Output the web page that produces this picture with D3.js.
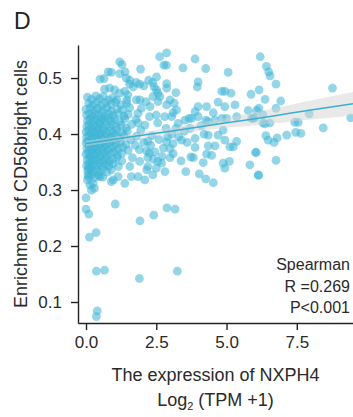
<!DOCTYPE html>
<html>
<head>
<meta charset="utf-8">
<script src="https://cdn.jsdelivr.net/npm/d3@7"></script>
<style>
    html, body { margin: 0; padding: 0; background: #fff; }
    svg { display: block; font-family: "Liberation Sans", Arial, Helvetica, sans-serif; }
</style>
</head>
<body>
<div id="chart"></div>
<script>
// [log2(TPM+1), enrichment]
const coreSamples = [
    [0.05,0.466],[0.2,0.462],[0.35,0.468],[0.48,0.463],[0.62,0.467],[0.8,0.461],[0.95,0.465],
    [0.1,0.455],[0.25,0.452],[0.4,0.457],[0.55,0.451],[0.7,0.456],[0.88,0.453],[1.05,0.457],[1.25,0.452],[1.45,0.455],
    [0.0,0.444],[0.15,0.447],[0.3,0.442],[0.42,0.446],[0.6,0.443],[0.75,0.447],[0.9,0.441],[1.1,0.445],[1.3,0.443],[1.55,0.447],
    [0.02,0.434],[0.12,0.437],[0.22,0.432],[0.33,0.436],[0.45,0.433],[0.58,0.437],[0.68,0.431],[0.82,0.436],[0.97,0.433],[1.15,0.437],[1.35,0.432],[1.5,0.435],
    [0.05,0.424],[0.15,0.427],[0.26,0.423],[0.36,0.426],[0.47,0.421],[0.56,0.427],[0.66,0.424],[0.78,0.428],[0.9,0.423],[1.02,0.426],[1.2,0.422],[1.38,0.427],[1.78,0.426],
    [0.03,0.414],[0.1,0.417],[0.19,0.412],[0.29,0.416],[0.39,0.413],[0.5,0.418],[0.6,0.412],[0.71,0.416],[0.83,0.413],[0.94,0.417],[1.08,0.412],[1.25,0.416],[1.42,0.411],[1.62,0.417],[2.1,0.416],
    [0.0,0.404],[0.08,0.407],[0.17,0.402],[0.26,0.406],[0.35,0.403],[0.44,0.408],[0.53,0.402],[0.63,0.406],[0.73,0.401],[0.84,0.405],[0.96,0.402],[1.1,0.407],[1.28,0.401],[1.47,0.405],[1.95,0.407],
    [0.02,0.394],[0.1,0.397],[0.2,0.392],[0.29,0.396],[0.38,0.393],[0.47,0.398],[0.57,0.392],[0.67,0.396],[0.78,0.391],[0.9,0.395],[1.03,0.398],[1.18,0.393],[1.36,0.397],[1.8,0.396],[2.35,0.397],
    [0.0,0.384],[0.07,0.387],[0.15,0.382],[0.24,0.386],[0.33,0.383],[0.42,0.388],[0.51,0.382],[0.61,0.386],[0.71,0.381],[0.82,0.385],[0.94,0.388],[1.07,0.383],[1.23,0.386],[1.42,0.381],[2.2,0.387],
    [0.03,0.374],[0.11,0.377],[0.2,0.372],[0.28,0.376],[0.37,0.373],[0.46,0.378],[0.56,0.372],[0.66,0.376],[0.77,0.371],[0.88,0.375],[1.0,0.378],[1.14,0.373],[1.3,0.376],[1.5,0.371],
    [0.0,0.364],[0.08,0.367],[0.16,0.362],[0.25,0.366],[0.34,0.363],[0.43,0.368],[0.53,0.362],[0.63,0.366],[0.74,0.361],[0.86,0.365],[0.99,0.368],[1.12,0.363],[1.28,0.366],[2.25,0.366],
    [0.04,0.354],[0.12,0.357],[0.21,0.352],[0.3,0.356],[0.4,0.353],[0.5,0.358],[0.6,0.352],[0.71,0.356],[0.83,0.351],[0.96,0.355],[1.1,0.358],[1.27,0.352],
    [0.02,0.344],[0.1,0.347],[0.19,0.342],[0.28,0.346],[0.38,0.343],[0.48,0.348],[0.59,0.342],[0.7,0.346],[0.82,0.343],[0.96,0.347],[1.15,0.342],
    [0.06,0.334],[0.15,0.337],[0.25,0.332],[0.36,0.336],[0.47,0.333],[0.6,0.337],[0.75,0.332],[0.9,0.336],
    [0.09,0.324],[0.2,0.327],[0.32,0.322],[0.45,0.326],[0.6,0.323]
];

const upperSamples = [
    [1.28,0.524],[1.2,0.529],[1.94,0.516],[2.62,0.538],[2.77,0.523],[0.9,0.51],[1.2,0.508],[1.43,0.5],
    [0.64,0.499],[2.23,0.496],[1.55,0.489],[1.79,0.492],[1.91,0.489],[2.42,0.484],[0.66,0.48],[0.84,0.482],
    [1.02,0.479],[1.2,0.473],[1.38,0.476],[1.49,0.47],[1.79,0.461],[2.14,0.458],[2.38,0.467],[2.56,0.473],
    [2.56,0.458],[0.5,0.498],[0.79,0.511],[1.39,0.511],[1.56,0.496],[1.68,0.484],[2.06,0.486],[2.37,0.492],
    [2.51,0.479],[2.87,0.482],[2.51,0.502],[1.09,0.461],[1.45,0.461],[1.92,0.461],[2.28,0.449],[2.63,0.467],
    [2.99,0.461],[3.22,0.443],[2.26,0.431],[2.5,0.434],[2.8,0.431],[1.85,0.437],[1.97,0.446],
    [1.91,0.351],[2.2,0.342],[2.56,0.351],[2.5,0.339],[0.9,0.315],[1.14,0.324],[1.38,0.312],[1.61,0.324],
    [1.85,0.324],[2.09,0.318],[2.38,0.327],[2.16,0.336],[2.69,0.348],[1.56,0.342],[3.1,0.365],
    [1.6,0.39],[1.75,0.38],[1.9,0.372],[2.05,0.385],[2.15,0.37],[2.3,0.38],[2.45,0.368],[2.6,0.39],
    [2.75,0.375],[2.9,0.395],[2.7,0.36],[2.4,0.355],[2.2,0.358],[1.65,0.358],[2.85,0.41],[2.55,0.42],
    [1.85,0.42],[3.05,0.4],[3.2,0.41],[3.3,0.395],[3.5,0.405],[3.6,0.385],[3.7,0.41],[4.1,0.415],[4.2,0.4]
];

const rightSamples = [
    [2.87,0.545],[2.86,0.523],[2.87,0.49],[3.88,0.534],[3.45,0.518],[4.26,0.517],[5.06,0.51],[6.2,0.538],
    [6.42,0.521],[6.5,0.511],[6.55,0.504],[6.76,0.489],[6.16,0.479],[6.37,0.462],[6.93,0.459],[6.15,0.446],
    [6.76,0.446],[8.77,0.482],[9.42,0.429],[8.44,0.411],[7.94,0.436],[7.55,0.421],[7.43,0.421],[6.29,0.42],
    [6.54,0.42],[6.0,0.429],[6.4,0.397],[6.48,0.389],[6.69,0.385],[6.8,0.393],[7.14,0.398],[7.46,0.403],
    [7.65,0.401],[6.06,0.367],[6.76,0.353],[6.14,0.326],
    [3.99,0.493],[3.96,0.484],[3.2,0.474],[4.83,0.476],[4.94,0.476],[5.16,0.473],[5.87,0.471],[4.7,0.457],
    [4.94,0.449],[5.3,0.452],[3.14,0.455],[2.87,0.452],[3.99,0.449],[4.29,0.449],[3.88,0.44],[4.53,0.438],
    [5.77,0.442],[6.07,0.442],[3.1,0.438],[3.05,0.431],[3.52,0.425],[3.76,0.428],[3.99,0.431],[5.0,0.428],
    [5.95,0.428],[3.28,0.419],[4.35,0.422],[4.59,0.425],[5.36,0.431],[3.67,0.428],[4.27,0.425],[4.83,0.428],
    [5.89,0.428],[6.3,0.434],[6.37,0.418],
    [3.4,0.389],[3.88,0.392],[4.35,0.398],[4.7,0.398],[4.88,0.407],[4.94,0.389],[5.36,0.387],[5.12,0.377],
    [5.24,0.377],[4.35,0.379],[4.59,0.379],[3.88,0.376],[6.03,0.367],[2.87,0.386],[3.1,0.383],[2.99,0.374],
    [2.99,0.358],[3.38,0.352],[3.73,0.359],[3.82,0.358],[4.29,0.364],[4.47,0.362],[4.17,0.349],[4.88,0.348],
    [4.94,0.339],[5.1,0.351],[5.83,0.345],[6.13,0.327],[3.55,0.333],[4.03,0.329],[4.26,0.32],[4.53,0.313],
    [2.81,0.333]
];

const lowSamples = [
    [0.0,0.286],[0.0,0.266],[0.1,0.257],[1.04,0.275],[1.92,0.245],[2.41,0.255],[2.88,0.268],[3.17,0.266],
    [0.36,0.224],[0.12,0.216],[0.37,0.155],[0.66,0.157],[1.9,0.142],[3.25,0.155],[0.4,0.084],[0.37,0.074],
    [0.07,0.327],[0.25,0.312],[0.19,0.3],[0.05,0.318],[0.14,0.309],[0.3,0.303],[0.08,0.339],[0.5,0.324],[0.97,0.318]
];

// fitted line and its confidence band, read at a few x positions
const fitX = [0, 1.3, 3, 5, 6.5, 8, 9.5];
const fitY = [0.383, 0.393, 0.405, 0.420, 0.431, 0.443, 0.454];
const fitLower = [0.378, 0.389, 0.399, 0.411, 0.418, 0.426, 0.433];
const fitUpper = [0.388, 0.397, 0.411, 0.429, 0.444, 0.460, 0.475];

const xTicks = [0, 2.5, 5, 7.5];
const yTicks = [0.1, 0.2, 0.3, 0.4, 0.5];
const statsLines = ["Spearman", "R =0.269", "P<0.001"];

const width = 353, height = 417;
const plot = {left: 78, right: 353, top: 45, bottom: 323};

const svg = d3.select("#chart")
    .append("svg")
    .attr("width", width)
    .attr("height", height);

const x = d3.scaleLinear()
    .domain([-0.285, 9.5])
    .range([plot.left, plot.right]);

const y = d3.scaleLinear()
    .domain([0.0625, 0.559])
    .range([plot.bottom, plot.top]);

const samples = coreSamples.concat(upperSamples, rightSamples, lowSamples);

svg.append("g")
    .selectAll("circle")
    .data(samples)
    .join("circle")
    .attr("cx", d => x(d[0]))
    .attr("cy", d => y(d[1]))
    .attr("r", 4.4)
    .attr("fill", "#3cb4d6")
    .attr("fill-opacity", 0.55);

const fit = fitX.map((v, i) => ({x: v, y: fitY[i], lo: fitLower[i], hi: fitUpper[i]}));

svg.append("path")
    .datum(fit)
    .attr("fill", "#d4d4d4")
    .attr("fill-opacity", 0.5)
    .attr("d", d3.area()
        .curve(d3.curveMonotoneX)
        .x(d => x(d.x))
        .y0(d => y(d.lo))
        .y1(d => y(d.hi)));

svg.append("path")
    .datum(fit)
    .attr("fill", "none")
    .attr("stroke", "#3aaed2")
    .attr("stroke-width", 1.6)
    .attr("d", d3.line()
        .curve(d3.curveMonotoneX)
        .x(d => x(d.x))
        .y(d => y(d.y)));

// axes
const xAxis = svg.append("g")
    .attr("transform", `translate(0, ${plot.bottom})`)
    .call(d3.axisBottom(x).tickValues(xTicks).tickFormat(d3.format(".1f")).tickSize(7).tickSizeOuter(0).tickPadding(6));

const yAxis = svg.append("g")
    .attr("transform", `translate(${plot.left}, 0)`)
    .call(d3.axisLeft(y).tickValues(yTicks).tickFormat(d3.format(".1f")).tickSize(7).tickSizeOuter(0).tickPadding(9));

[xAxis, yAxis].forEach(g => {
    g.select(".domain").attr("stroke", "#222").attr("stroke-width", 1.4);
    g.selectAll(".tick line").attr("stroke", "#222").attr("stroke-width", 1.4);
    g.selectAll(".tick text")
        .attr("fill", "#2a2a2a")
        .style("font-family", "'Liberation Sans', Arial, sans-serif")
        .style("font-size", "17px");
});

// titles
svg.append("text")
    .attr("x", (plot.left + plot.right) / 2)
    .attr("y", 381)
    .attr("text-anchor", "middle")
    .attr("fill", "#2a2a2a")
    .style("font-size", "18px")
    .text("The expression of NXPH4");

const log2 = svg.append("text")
    .attr("x", (plot.left + plot.right) / 2)
    .attr("y", 406)
    .attr("text-anchor", "middle")
    .attr("fill", "#2a2a2a")
    .style("font-size", "18px");
log2.append("tspan").text("Log");
log2.append("tspan").attr("dy", 4).style("font-size", "11px").text("2");
log2.append("tspan").attr("dy", -4).text(" (TPM +1)");

svg.append("text")
    .attr("transform", `translate(27, ${(plot.top + plot.bottom) / 2}) rotate(-90)`)
    .attr("text-anchor", "middle")
    .attr("fill", "#2a2a2a")
    .style("font-size", "18px")
    .text("Enrichment of CD56bright cells");

svg.append("text")
    .attr("x", 14)
    .attr("y", 29)
    .attr("fill", "#222")
    .style("font-size", "23px")
    .text("D");

svg.append("g")
    .selectAll("text")
    .data(statsLines)
    .join("text")
    .attr("x", 350)
    .attr("y", (d, i) => 270 + i * 21.5)
    .attr("text-anchor", "end")
    .attr("fill", "#2a2a2a")
    .style("font-size", "16px")
    .text(d => d);
</script>
</body>
</html>
